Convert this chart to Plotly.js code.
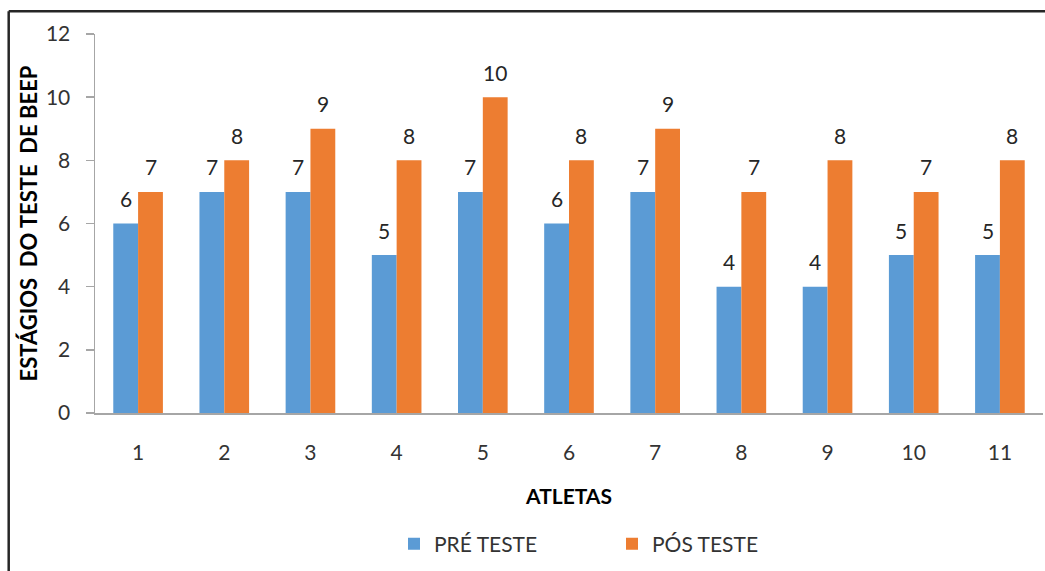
<!DOCTYPE html>
<html>
<head>
<meta charset="utf-8">
<script src="https://cdn.plot.ly/plotly-3.0.1.min.js"></script>
<style>
  html, body { margin: 0; padding: 0; background: #fff; }
  #chart { width: 1045px; height: 571px; }
</style>
</head>
<body>
<div id="chart"></div>
<script>
// Athletes and Beep test stages before/after training
const athletes = [1, 2, 3, 4, 5, 6, 7, 8, 9, 10, 11];
const preTest  = [6, 7, 7, 5, 7, 6, 7, 4, 4, 5, 5];
const postTest = [7, 8, 9, 8, 10, 8, 9, 7, 8, 7, 8];
const seriesNames = ['PRÉ TESTE', 'PÓS TESTE'];
const yTicks = [0, 2, 4, 6, 8, 10, 12];

const W = 1045, H = 571;
const M = { l: 95, r: 2, t: 34, b: 158 };
const plotW = W - M.l - M.r, plotH = H - M.t - M.b;
const px2x = p => (p - M.l) / plotW;
const px2y = p => 1 - (p - M.t) / plotH;

const FONT = 'Lato, "Liberation Sans", sans-serif';
const BLUE = '#5B9BD5', ORANGE = '#ED7D31';
const BARGAP = 0.424;
const half = (1 - BARGAP) / 4; // centre offset of each bar inside its group

const traces = [
  { type: 'bar', name: seriesNames[0], x: athletes, y: preTest,
    marker: { color: BLUE }, hoverinfo: 'none' },
  { type: 'bar', name: seriesNames[1], x: athletes, y: postTest,
    marker: { color: ORANGE }, hoverinfo: 'none' }
];

// value labels above each bar
const labels = [];
[[preTest, -half], [postTest, half]].forEach(([vals, dx]) => {
  vals.forEach((v, i) => {
    labels.push({
      x: athletes[i] + dx, y: v, xref: 'x', yref: 'y',
      text: String(v), showarrow: false, yanchor: 'middle', yshift: 25,
      font: { family: FONT, size: 21, color: '#262626' }
    });
  });
});

// outer frame (left and top edges)
const frameLine = { color: '#262626', width: 2.5 };
const shapes = [
  { type: 'line', xref: 'paper', yref: 'paper',
    x0: px2x(8.7), x1: px2x(8.7), y0: px2y(11.3), y1: px2y(H + 5), line: frameLine },
  { type: 'line', xref: 'paper', yref: 'paper',
    x0: px2x(8.7), x1: px2x(W + 5), y0: px2y(11.3), y1: px2y(11.3), line: frameLine }
];

const layout = {
  width: W, height: H,
  margin: M,
  paper_bgcolor: '#fff', plot_bgcolor: '#fff',
  font: { family: FONT, size: 21, color: '#333' },
  barmode: 'group', bargap: BARGAP, bargroupgap: 0,
  showlegend: true,
  legend: {
    orientation: 'h', x: px2x(394), xanchor: 'left', y: px2y(544), yanchor: 'middle',
    entrywidth: 173, entrywidthmode: 'pixels',
    font: { family: FONT, size: 21, color: '#333' }, traceorder: 'normal'
  },
  xaxis: {
    range: [0.5, 11.5], tickvals: athletes, ticktext: athletes.map(String),
    showgrid: false, zeroline: false, showline: true, linecolor: '#a6a6a6', linewidth: 1.5,
    ticks: '', ticklabelstandoff: 20, fixedrange: true,
    tickfont: { family: FONT, size: 21, color: '#333' },
    title: { text: '<b>ATLETAS</b>', standoff: 26, font: { family: FONT, size: 21, color: '#000' } }
  },
  yaxis: {
    range: [0, 12], tickvals: yTicks, showgrid: false, zeroline: false,
    showline: true, linecolor: '#a6a6a6', linewidth: 1.5,
    ticks: 'outside', ticklen: 8, tickcolor: '#a6a6a6', tickwidth: 1.5,
    ticklabelstandoff: 11, fixedrange: true,
    tickfont: { family: FONT, size: 21, color: '#333' },
    title: { text: '<b>ESTÁGIOS\u00a0 DO TESTE\u00a0 DE BEEP</b>', standoff: 2,
             font: { family: FONT, size: 22, color: '#000' } }
  },
  annotations: labels,
  shapes: shapes
};

Plotly.newPlot('chart', traces, layout, { staticPlot: true, displayModeBar: false });
</script>
</body>
</html>
